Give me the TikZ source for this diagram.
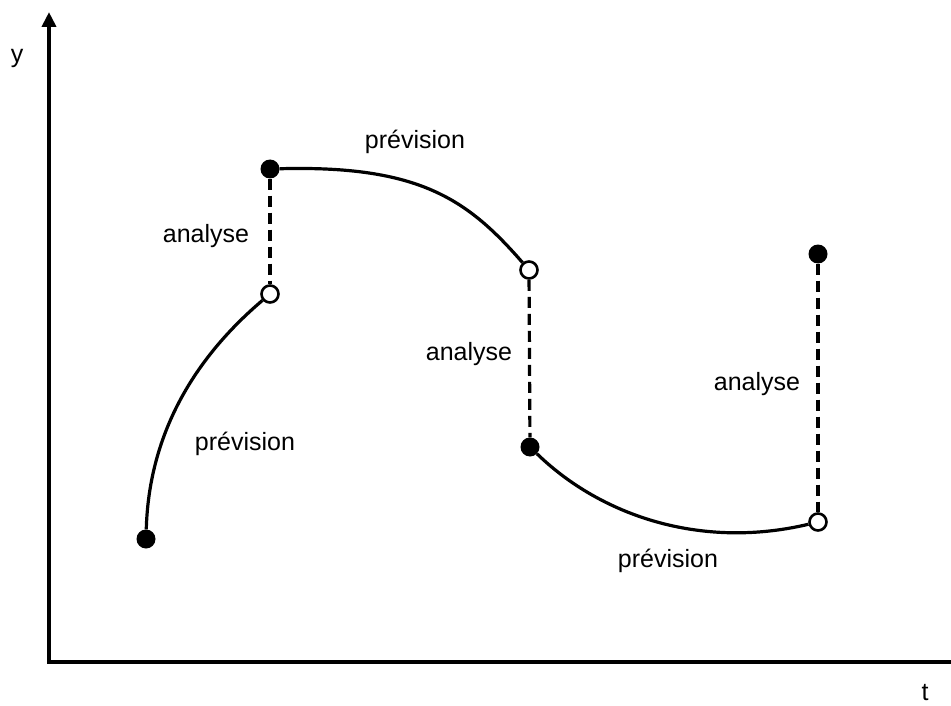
\documentclass[tikz,border=0pt]{standalone}
\usepackage{fontspec}
\setmainfont{Liberation Sans}
\usetikzlibrary{arrows.meta}
\begin{document}
\begin{tikzpicture}[x=1pt,y=-1pt,
  full/.style={circle,fill=black,minimum size=19pt,inner sep=0pt},
  open/.style={circle,draw=black,fill=white,line width=2.6pt,minimum size=17pt,inner sep=0pt},
  lbl/.style={font=\fontsize{25}{30}\selectfont,inner sep=0pt},
  curve/.style={line width=3.2pt},
  ana/.style={line width=3.2pt,dash pattern=on 11pt off 6pt},
  axis/.style={line width=4pt}]
\useasboundingbox (0,0) rectangle (951,706);
% axes
\coordinate (o) at (49,662);
\coordinate (ytop) at (49,12);
\coordinate (xend) at (951,662);
\draw[axis,-{Triangle[length=15pt,width=14pt]}] (o) -- (ytop);
\draw[axis] ([xshift=-2pt]o) -- (xend);
\node[lbl] (ylab) at (17,58) {y};
\node[lbl] (tlab) at (925,693) {t};
% points
\node[full] (p1) at (146,539) {};
\node[open] (p2) at (270,294) {};
\node[full] (p3) at (270,169) {};
\node[open] (p4) at (529,270) {};
\node[full] (p5) at (530,447) {};
\node[open] (p6) at (818,522) {};
\node[full] (p7) at (818,254) {};
% forecasts
\draw[curve] (p1) .. controls (149,430) and (198,355) .. (p2);
\draw[curve] (p3) .. controls (420,165) and (468,200) .. (p4);
\draw[curve] (p5) .. controls (600,515) and (700,550) .. (p6);
% analyses
\draw[ana] (p3) -- (p2);
\draw[ana] (p4) -- (p5);
\draw[ana] (p7) -- (p6);
% labels
\node[lbl] (l1) at (415,142) {prévision};
\node[lbl] (l2) at (206,236) {analyse};
\node[lbl] (l3) at (245,444) {prévision};
\node[lbl] (l4) at (469,354) {analyse};
\node[lbl] (l5) at (757,384) {analyse};
\node[lbl] (l6) at (668,561) {prévision};
\end{tikzpicture}
\end{document}
